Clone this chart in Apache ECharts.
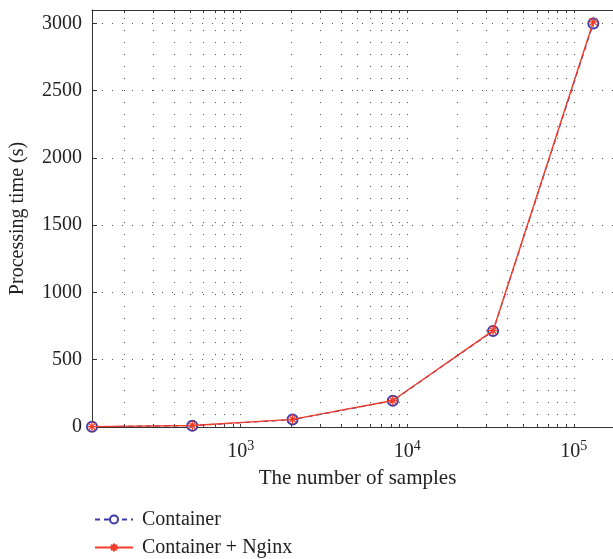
<!DOCTYPE html>
<html>
<head>
<meta charset="utf-8">
<script src="https://cdn.jsdelivr.net/npm/echarts@6/dist/echarts.min.js"></script>
<style>
  html, body { margin: 0; padding: 0; background: #fff; }
  #chart1 { width: 613px; height: 559px; }
</style>
</head>
<body>
<div id="chart1"></div>
<script>
// sample sizes (log x axis)
var samples = [128, 512, 2048, 8192, 32768, 131072];
// processing time (s)
var containerTime = [2, 10, 55, 195, 713, 3000];
var nginxTime = [3, 11, 57, 197, 716, 3012];

var yTicks = [0, 500, 1000, 1500, 2000, 2500, 3000];
var xMajor = [1000, 10000, 100000];
// minor log ticks 200..900, 2000..9000 ...
var xMinor = [200, 300, 400, 500, 600, 700, 800, 900,
    2000, 3000, 4000, 5000, 6000, 7000, 8000, 9000,
    20000, 30000, 40000, 50000, 60000, 70000, 80000, 90000];

var serif = 'Liberation Serif';

function pairs(xs, ys) {
    var out = [];
    for (var i = 0; i < xs.length; i++) out.push([xs[i], ys[i]]);
    return out;
}

var gridLines = xMinor.concat(xMajor);

var chart = echarts.init(document.getElementById('chart1'));

var option = {
    animation: false,
    grid: { left: 92, top: 10, right: 0, bottom: 132 },
    legend: {
        orient: 'vertical',
        left: 94,
        top: 509,
        padding: 0,
        itemWidth: 38,
        itemHeight: 10,
        itemGap: 7,
        textStyle: { fontFamily: serif, fontSize: 20, color: '#222', lineHeight: 21, padding: [0, 0, 0, 4] },
        data: ['Container', 'Container + Nginx']
    },
    xAxis: [{
        type: 'log',
        logBase: 10,
        min: 128,
        max: 172000,
        name: 'The number of samples',
        nameLocation: 'middle',
        nameGap: 41,
        nameTextStyle: { fontFamily: serif, fontSize: 21, color: '#222', padding: [0, 0, 0, 10] },
        axisLine: { lineStyle: { color: '#333', width: 1 } },
        axisTick: { inside: true, length: 3, customValues: gridLines, lineStyle: { color: '#333' } },
        axisLabel: {
            customValues: xMajor,
            margin: 12,
            fontFamily: serif, fontSize: 20, color: '#222',
            formatter: function (v) {
                return '10{sup|' + Math.round(Math.log(v) / Math.LN10) + '}';
            },
            rich: {
                sup: { fontFamily: serif, fontSize: 14, color: '#222', verticalAlign: 'top', padding: [0, 0, 12, 0] }
            }
        },
        splitLine: { show: false },
        minorTick: { show: false }
    }, {
        type: 'log',
        logBase: 10,
        min: 128,
        max: 172000,
        position: 'top',
        axisLine: { lineStyle: { color: '#333', width: 1 } },
        axisTick: { inside: true, length: 3, customValues: gridLines, lineStyle: { color: '#333' } },
        axisLabel: { show: false },
        splitLine: { show: false }
    }],
    yAxis: {
        type: 'value',
        min: 0,
        max: 3100,
        interval: 500,
        name: 'Processing time (s)',
        nameLocation: 'middle',
        nameGap: 64,
        nameTextStyle: { fontFamily: serif, fontSize: 20, color: '#222' },
        axisLine: { show: true, lineStyle: { color: '#333', width: 1 } },
        axisTick: { show: true, inside: true, length: 5, customValues: yTicks, lineStyle: { color: '#333' } },
        axisLabel: {
            customValues: yTicks, margin: 10, fontFamily: serif, fontSize: 20, color: '#222',
            formatter: function (v) { return String(v); }
        },
        splitLine: { show: true, lineStyle: { color: '#555', width: 1, type: [1, 9] } }
    },
    series: [{
        name: 'Container',
        type: 'line',
        data: pairs(samples, containerTime),
        symbol: 'emptyCircle',
        symbolSize: 10,
        lineStyle: { color: '#3a3aa8', width: 1.2, type: [5, 4] },
        itemStyle: { color: '#3a3aa8', borderWidth: 1.2 },
        z: 2,
        markLine: {
            silent: true,
            symbol: 'none',
            label: { show: false },
            lineStyle: { color: '#555', width: 1, type: [1, 11] },
            data: gridLines.map(function (v) { return { xAxis: v }; })
        }
    }, {
        name: 'Container + Nginx',
        type: 'line',
        data: pairs(samples, nginxTime),
        symbol: 'path://M0,5L10,5M5,0L5,10M1.5,1.5L8.5,8.5M1.5,8.5L8.5,1.5',
        symbolSize: 10,
        lineStyle: { color: '#f03c28', width: 1.4 },
        itemStyle: { color: 'none', borderColor: '#f03c28', borderWidth: 1.3 },
        z: 3
    }]
};

chart.setOption(option, true);
</script>
</body>
</html>
